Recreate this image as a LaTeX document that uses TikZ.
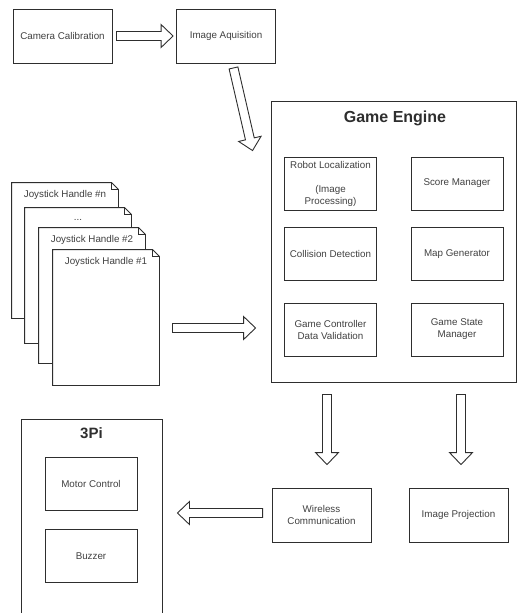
\documentclass[tikz,border=0pt]{standalone}
\usepackage{fontspec}
\setmainfont{Liberation Sans}
\usetikzlibrary{calc,positioning}
\definecolor{ink}{gray}{0.18}
\definecolor{txt}{gray}{0.25}

% hollow block arrow from #1 to #2
\newcommand{\fatarrow}[2]{%
  \coordinate (fa-base) at ($(#2)!12pt!(#1)$);
  \draw[ink, fill=white, line join=miter]
    ($(#1)!4.5pt!90:(#2)$) -- ($(fa-base)!4.5pt!90:(#2)$) -- ($(fa-base)!11.5pt!90:(#2)$) -- (#2)
    -- ($(fa-base)!11.5pt!-90:(#2)$) -- ($(fa-base)!4.5pt!-90:(#2)$) -- ($(#1)!4.5pt!-90:(#2)$) -- cycle;
}

\begin{document}
\begin{tikzpicture}[x=1pt, y=-1pt, line width=0.9pt, font=\fontsize{9.8}{12}\selectfont,
  bigbox/.style={draw=ink, text=txt, align=center, inner sep=1pt, minimum width=99pt, minimum height=54pt},
  subbox/.style={draw=ink, text=txt, align=center, inner sep=1pt, minimum width=92pt, minimum height=53pt},
  heading/.style={text=ink, font=\fontsize{16}{18}\selectfont\bfseries},
  page/.style={fill=white, minimum width=106pt, minimum height=135pt, inner sep=0pt}]
  \useasboundingbox (0,0) rectangle (517,613);

  % top row
  \node[bigbox] (cam) at (62.5,36) {Camera Calibration};
  \node[bigbox] (acq) at (226,36) {Image Aquisition};

  % game engine
  \node[draw=ink, minimum width=245pt, minimum height=281pt] (engine) at (393.5,241.5) {};
  \node[heading] (engine-t) at (395,118) {Game Engine};
  \foreach \n/\x/\y/\t in {loc/330.5/183.5/{Robot Localization\\[12pt](Image\\Processing)},
      score/457/183.5/{Score Manager}, coll/330.5/254/{Collision Detection}, map/457/254/{Map Generator},
      valid/330.5/329.5/{Game Controller\\Data Validation}, state/457/329.5/{Game State\\Manager}}{
    \node[subbox] (\n) at (\x,\y) {\t};
  }

  % joystick handles
  \foreach \n/\x/\y/\t in {jn/12/183/{Joystick Handle \#n}, jd/25/208/{...}, j2/39/228/{Joystick Handle \#2}, j1/53/250/{Joystick Handle \#1}}{
    \node[page] (\n) at (\x+53,\y+67.5) {};
    \draw[ink] (\n.north west) -- ([xshift=-7pt]\n.north east) -- ([yshift=-7pt]\n.north east)
      -- (\n.south east) -- (\n.south west) -- cycle;
    \draw[ink, line width=0.6pt] ([xshift=-7pt]\n.north east) -- ([xshift=-7pt,yshift=-7pt]\n.north east)
      -- ([yshift=-7pt]\n.north east);
    \node[text=txt] (\n-t) at ([yshift=-12pt]\n.north) {\t};
  }

  % outputs
  \node[bigbox] (wire) at (321.5,515) {Wireless\\Communication};
  \node[bigbox] (proj) at (458.5,515) {Image Projection};

  % 3pi robot
  \node[draw=ink, minimum width=141pt, minimum height=215pt, anchor=north] (pi) at (91.5,419) {};
  \node[heading, font=\fontsize{15}{18}\selectfont\bfseries] (pi-t) at (91.5,433) {3Pi};
  \node[subbox] (motor) at (91,483.5) {Motor Control};
  \node[subbox] (buzz) at (91,556) {Buzzer};

  % arrow ends
  \coordinate (cam-o) at ([xshift=4pt]cam.east);
  \coordinate (acq-i) at ([xshift=-3pt]acq.west);
  \coordinate (acq-o) at ([xshift=7.5pt,yshift=-4.5pt]acq.south);
  \coordinate (eng-i) at ([xshift=-18pt,yshift=-50pt]engine.north west);
  \coordinate (joy-o) at ([xshift=13pt,yshift=-10.5pt]j1.east);
  \coordinate (eng-w) at ([xshift=-15pt]engine.west);
  \coordinate (eng-s) at ([yshift=-12pt]engine.south);
  \coordinate (wire-i) at ([xshift=5.5pt,yshift=23pt]wire.north);
  \coordinate (proj-i) at ([xshift=2.5pt,yshift=23pt]proj.north);
  \coordinate (wire-o) at ([xshift=-9pt,yshift=2pt]wire.west);
  \coordinate (pi-e) at ([xshift=15pt]pi.east);

  \fatarrow{cam-o}{acq-i}
  \fatarrow{acq-o}{eng-i}
  \fatarrow{joy-o}{joy-o -| eng-w}
  \fatarrow{wire-i |- eng-s}{wire-i}
  \fatarrow{proj-i |- eng-s}{proj-i}
  \fatarrow{wire-o}{wire-o -| pi-e}
\end{tikzpicture}
\end{document}
